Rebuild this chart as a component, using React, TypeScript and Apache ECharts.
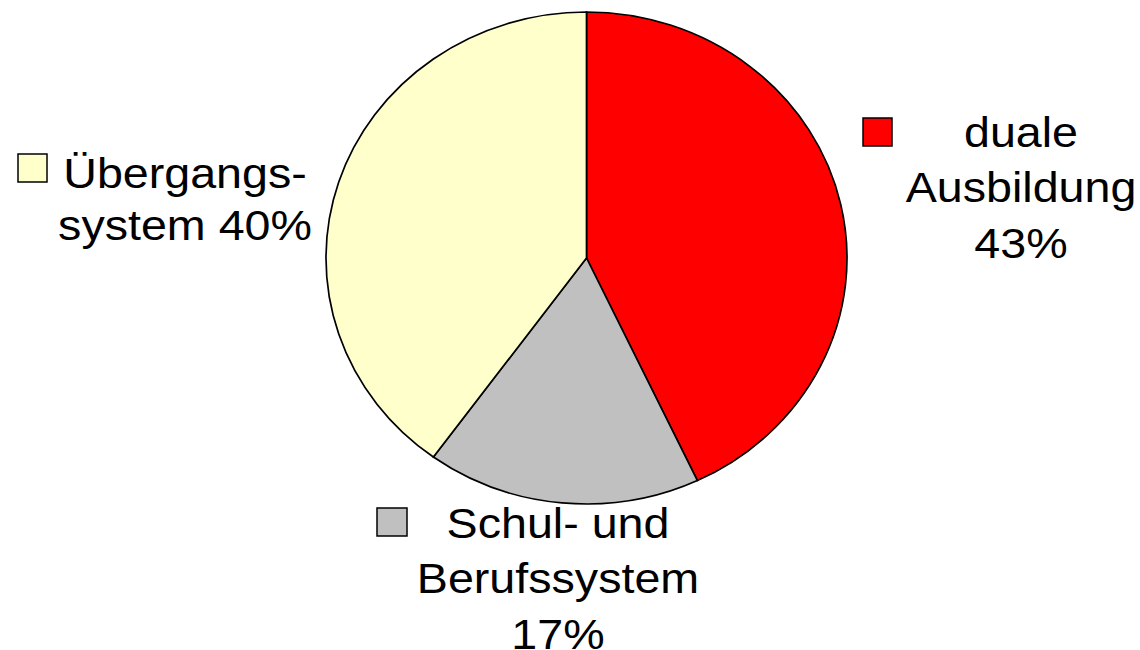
import React, { useEffect, useRef } from "react";
import * as echarts from "echarts";

const categories = ["duale Ausbildung", "Schul- und Berufssystem", "Übergangssystem"];
const shares = [43, 17, 40];
const colors = ["#FF0000", "#C0C0C0", "#FFFFCC"];
const labelTexts = [
  ["duale", "Ausbildung"],
  ["Schul- und", "Berufssystem"],
  ["Übergangs-", "system"],
];

// layout
const CX = 586.5;
const CY = 258;
const RX = 260.5;
const RY = 246;
const FONT = 42;
const TEXT_SCALE_X = 1.11;

const labelLayout = [
  { cx: 1021, baselines: [147, 202, 258], box: [863, 118, 29, 28], pctOwnLine: true },
  { cx: 558, baselines: [538, 593, 649], box: [377, 508, 30, 28], pctOwnLine: true },
  { cx: 185, baselines: [188, 240], box: [18, 154, 29, 28], pctOwnLine: false },
];

export default function App() {
  const ref = useRef<HTMLDivElement>(null);
  useEffect(() => {
    if (!ref.current) return;
    const chart = echarts.init(ref.current, null, { renderer: "svg" });
    const total = shares.reduce((a, b) => a + b, 0);
    const graphics: any[] = [];
    labelLayout.forEach((L, i) => {
      const lines = labelTexts[i].slice();
      if (L.pctOwnLine) lines.push(`${shares[i]}%`);
      else lines[lines.length - 1] = `${lines[lines.length - 1]} ${shares[i]}%`;
      lines.forEach((t, j) => {
        graphics.push({
          type: "text",
          x: L.cx,
          y: L.baselines[j] - 15,
          scaleX: TEXT_SCALE_X,
          style: {
            text: t,
            fill: "#000",
            font: `${FONT}px "Liberation Sans", Arial, sans-serif`,
            textAlign: "center",
            textVerticalAlign: "middle",
          },
        });
      });
      graphics.push({
        type: "rect",
        shape: { x: L.box[0], y: L.box[1], width: L.box[2], height: L.box[3] },
        style: { fill: colors[i], stroke: "#000", lineWidth: 1.5 },
      });
    });
    chart.setOption({
      animation: false,
      backgroundColor: "#fff",
      series: [
        {
          type: "custom",
          name: "Anteile",
          coordinateSystem: "none",
          data: shares.map((v, i) => ({ name: categories[i], value: [v, i] })),
          renderItem: (params: any, api: any) => {
            const i = params.dataIndex;
            let before = 0;
            for (let k = 0; k < i; k++) before += shares[k];
            const v = api.value(0);
            const a0 = -Math.PI / 2 + (before / total) * Math.PI * 2;
            const a1 = -Math.PI / 2 + ((before + v) / total) * Math.PI * 2;
            return {
              type: "sector",
              x: CX,
              y: CY,
              scaleX: RX / RY,
              shape: { cx: 0, cy: 0, r0: 0, r: RY, startAngle: a0, endAngle: a1, clockwise: true },
              style: { fill: colors[i], stroke: "#000", lineWidth: 1.6 },
            };
          },
        },
      ],
      graphic: graphics,
    });
    return () => chart.dispose();
  }, []);
  return (
    <div
      ref={ref}
      style={{ position: "fixed", left: 0, top: 0, width: 1140, height: 650, background: "#fff" }}
    />
  );
}
